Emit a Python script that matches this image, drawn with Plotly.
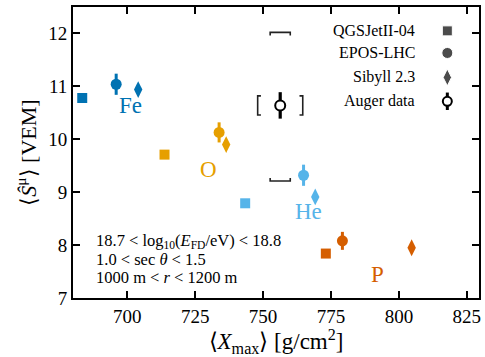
import plotly.graph_objects as go

# Simulated primaries: mean Xmax [g/cm^2] and <S^mu> [VEM] per hadronic model
primaries = ["Fe", "O", "He", "P"]
colors = ["#0072B2", "#E69F00", "#56B4E9", "#D55E00"]

qgs_x = [683.4, 713.7, 743.4, 773.1]
qgs_y = [10.78, 9.71, 8.79, 7.84]

epos_x = [695.9, 733.8, 764.9, 779.2]
epos_y = [11.04, 10.13, 9.32, 8.08]
epos_err = [0.20, 0.19, 0.20, 0.17]

sib_x = [704.0, 736.4, 769.2, 804.7]
sib_y = [10.94, 9.90, 8.91, 7.95]

# Primary name labels
label_x = [701.0, 730.0, 766.6, 792.2]
label_y = [10.63, 9.42, 8.63, 7.45]

# Auger measurement with statistical and systematic uncertainties
auger_x = 756.3
auger_y = 10.64
auger_stat_y = 0.25
auger_sys_x = 8.3
auger_sys_y_up = 1.38
auger_sys_y_down = 1.43

legend_names = ["QGSJetII-04", "EPOS-LHC", "Sibyll 2.3", "Auger data"]

FONT = "Liberation Serif"

fig = go.Figure()

fig.add_trace(go.Scatter(
    x=qgs_x, y=qgs_y, mode="markers", showlegend=False,
    marker=dict(symbol="square", size=10, color=colors, line=dict(width=0)),
))
# EPOS points, each with an error bar in its own colour
for xv, yv, ev, c in zip(epos_x, epos_y, epos_err, colors):
    fig.add_trace(go.Scatter(
        x=[xv], y=[yv], mode="markers", showlegend=False,
        error_y=dict(type="data", array=[ev], width=0, thickness=3, color=c),
        marker=dict(symbol="circle", size=11, color=c, line=dict(width=0)),
    ))
fig.add_trace(go.Scatter(
    x=sib_x, y=sib_y, mode="markers", showlegend=False,
    marker=dict(symbol="diamond-tall", size=12, color=colors, line=dict(width=0)),
))

# Systematic brackets around the Auger point
bx_tail = 1.2
by_tail = 0.06
bx_half = 3.7
by_half = 0.18
xl = auger_x - auger_sys_x
xr = auger_x + auger_sys_x
yt = auger_y + auger_sys_y_up
yb = auger_y - auger_sys_y_down
br_x = [
    xl + bx_tail, xl, xl, xl + bx_tail, None,
    xr - bx_tail, xr, xr, xr - bx_tail, None,
    auger_x - bx_half, auger_x - bx_half, auger_x + bx_half, auger_x + bx_half, None,
    auger_x - bx_half, auger_x - bx_half, auger_x + bx_half, auger_x + bx_half,
]
br_y = [
    auger_y + by_half, auger_y + by_half, auger_y - by_half, auger_y - by_half, None,
    auger_y + by_half, auger_y + by_half, auger_y - by_half, auger_y - by_half, None,
    yt - by_tail, yt, yt, yt - by_tail, None,
    yb + by_tail, yb, yb, yb + by_tail,
]
fig.add_trace(go.Scatter(
    x=br_x, y=br_y, mode="lines", showlegend=False,
    line=dict(color="#222222", width=1.6),
))
fig.add_trace(go.Scatter(
    x=[auger_x], y=[auger_y], mode="markers", showlegend=False,
    error_y=dict(type="data", array=[auger_stat_y], width=0, thickness=3.2, color="black"),
    marker=dict(symbol="circle", size=10, color="white", line=dict(width=2, color="black")),
))

# Legend samples drawn on an overlay axis spanning the plot area
leg_y = [0.918, 0.842, 0.758, 0.676]
leg_sym_x = 0.922
leg_text_x = 0.848
fig.add_trace(go.Scatter(
    x=[leg_sym_x] * 3, y=leg_y[:3], mode="markers", showlegend=False,
    xaxis="x2", yaxis="y2",
    marker=dict(symbol=["square", "circle", "diamond-tall"], size=[10, 11, 12], color="black"),
))
fig.add_trace(go.Scatter(
    x=[leg_sym_x], y=[leg_y[3]], mode="markers", showlegend=False,
    xaxis="x2", yaxis="y2",
    error_y=dict(type="data", array=[0.03], width=0, thickness=3, color="black"),
    marker=dict(symbol="circle", size=9, color="white", line=dict(width=2, color="black")),
))

annotations = []
for name, yv in zip(legend_names, leg_y):
    annotations.append(dict(
        x=leg_text_x, y=yv, xref="paper", yref="paper", text=name,
        showarrow=False, xanchor="right", yanchor="middle",
        font=dict(family=FONT, size=16, color="black"),
    ))
for name, xv, yv, c in zip(primaries, label_x, label_y, colors):
    annotations.append(dict(
        x=xv, y=yv, xref="x", yref="y", text=name, showarrow=False,
        xanchor="center", yanchor="middle",
        font=dict(family=FONT, size=23, color=c),
    ))
cut_lines = [
    "18.7 < log<sub>10</sub>(<i>E</i><sub>FD</sub>/eV) < 18.8",
    "1.0 < sec <i>θ</i> < 1.5",
    "1000 m < <i>r</i> < 1200 m",
]
for i, line in enumerate(cut_lines):
    annotations.append(dict(
        x=0.052, y=0.195 - i * 0.063, xref="paper", yref="paper", text=line,
        showarrow=False, xanchor="left", yanchor="middle",
        font=dict(family=FONT, size=16.5, color="black"),
    ))

axis_common = dict(
    showgrid=False, zeroline=False, showline=True, linecolor="black", linewidth=2,
    mirror="ticks", ticks="inside", ticklen=7, tickwidth=1.5, tickcolor="black",
    tickfont=dict(family=FONT, size=19, color="black"),
)

fig.update_layout(
    width=485, height=357,
    margin=dict(l=73, r=4, t=7, b=59),
    paper_bgcolor="white", plot_bgcolor="white",
    showlegend=False,
    xaxis=dict(
        range=[680, 829.5], tickvals=[700, 725, 750, 775, 800, 825],
        title=dict(text="⟨<i>X</i><sub>max</sub>⟩ [g/cm<sup>2</sup>]",
                   font=dict(family=FONT, size=23, color="black"), standoff=6),
        **axis_common,
    ),
    yaxis=dict(
        range=[7, 12.5], tickvals=[7, 8, 9, 10, 11, 12],
        title=dict(text="⟨<i>Ŝ</i><sup>μ</sup>⟩ [VEM]",
                   font=dict(family=FONT, size=22, color="black"), standoff=6),
        **axis_common,
    ),
    xaxis2=dict(overlaying="x", range=[0, 1], visible=False),
    yaxis2=dict(overlaying="y", range=[0, 1], visible=False),
    annotations=annotations,
)

fig.write_html("out.html")
